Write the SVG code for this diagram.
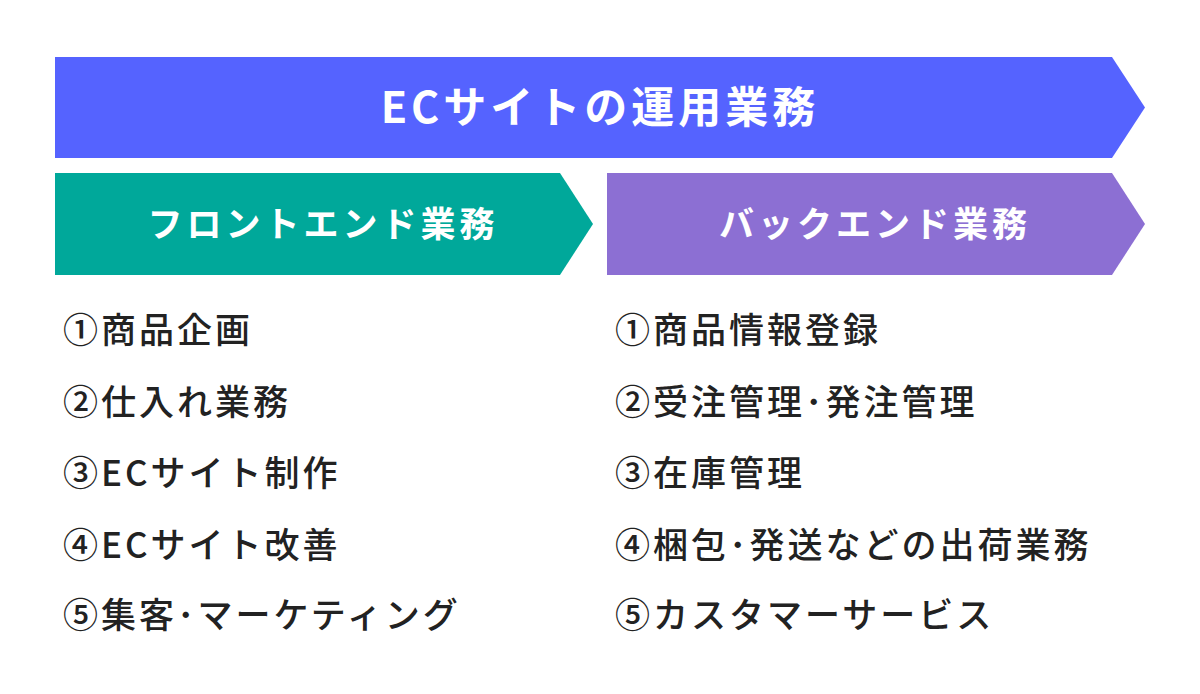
<svg xmlns="http://www.w3.org/2000/svg" width="1200" height="694" viewBox="0 0 1200 694">
<style>
.h{font-family:"Noto Sans CJK JP",sans-serif;font-weight:700;fill:#fff;text-anchor:middle}
.l{font-family:"Noto Sans CJK JP",sans-serif;font-weight:500;font-size:35px;letter-spacing:3px;fill:#222}
</style>
<rect width="1200" height="694" fill="#fff"/>
<g id="top"><polygon points="55,57 1112,57 1145,107.5 1112,158 55,158" fill="#5563ff"/>
<text class="h" x="600" y="123" font-size="43" letter-spacing="4">ECサイトの運用業務</text></g>
<g id="front"><polygon points="55,173 560,173 593,224 560,275 55,275" fill="#00a89a"/>
<text class="h" x="323" y="237" font-size="35" letter-spacing="4">フロントエンド業務</text></g>
<g id="back"><polygon points="607,173 1112,173 1145,224 1112,275 607,275" fill="#8c6fd3"/>
<text class="h" x="875" y="237" font-size="35" letter-spacing="4">バックエンド業務</text></g>
<g id="frontlist">
<text class="l" x="63" y="343">①商品企画</text>
<text class="l" x="63" y="415">②仕入れ業務</text>
<text class="l" x="63" y="486">③ECサイト制作</text>
<text class="l" x="63" y="558">④ECサイト改善</text>
<text class="l" x="63" y="628">⑤集客･マーケティング</text>
</g>
<g id="backlist">
<text class="l" x="615" y="343">①商品情報登録</text>
<text class="l" x="615" y="415">②受注管理･発注管理</text>
<text class="l" x="615" y="486">③在庫管理</text>
<text class="l" x="615" y="558">④梱包･発送などの出荷業務</text>
<text class="l" x="615" y="628">⑤カスタマーサービス</text>
</g>
<g id="connectors"/>
</svg>
